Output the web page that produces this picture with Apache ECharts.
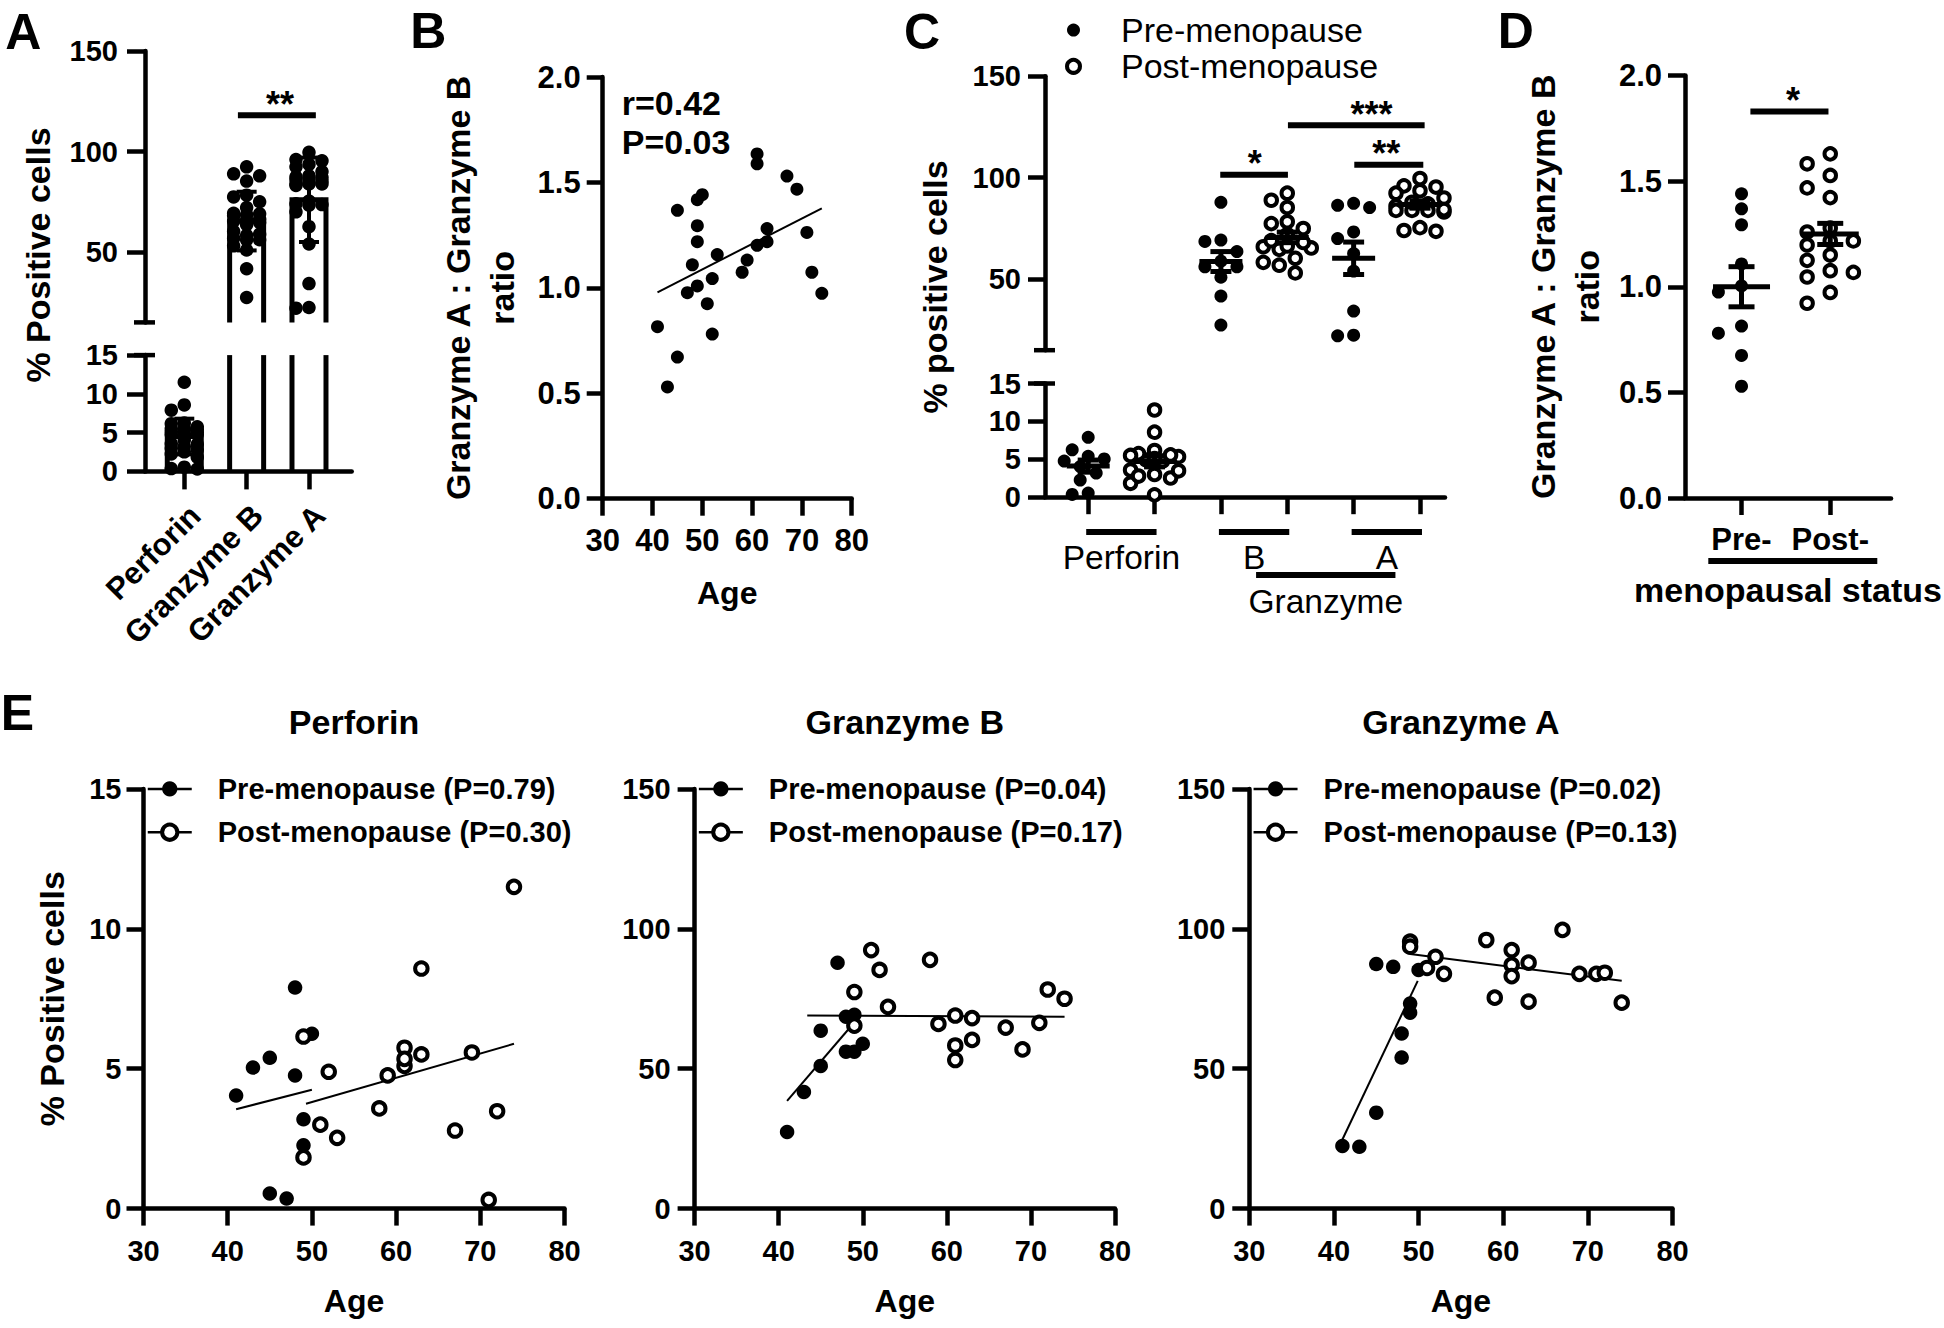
<!DOCTYPE html>
<html>
<head>
<meta charset="utf-8">
<script src="https://cdn.jsdelivr.net/npm/echarts@6/dist/echarts.min.js"></script>
<style>html,body{margin:0;padding:0;background:#fff}#c{width:1944px;height:1328px}</style>
</head>
<body>
<div id="c"></div>
<script>
// ======================= DATA =======================
const markerNames = ['Perforin', 'Granzyme B', 'Granzyme A'];

// Panel E: [age, % positive cells]
const ePerfPre  = [[41,4.04],[43,5.04],[45,5.39],[48,7.9],[48,4.76],[50,6.25],[49,3.19],[49,2.26],[45,0.54],[47,0.36]];
const ePerfPost = [[49,6.15],[49,1.83],[51,3.0],[52,4.89],[53,2.53],[58,3.58],[59,4.76],[61,5.75],[61,5.1],[61,5.35],[63,8.58],[63,5.51],[67,2.79],[69,5.58],[71,0.31],[72,3.48],[74,11.5]];
const eGzbPre   = [[41,27.4],[43,41.7],[45,63.6],[45,51.0],[47,87.9],[48,68.6],[48,56.1],[49,69.3],[49,56.1],[50,58.9]];
const eGzbPost  = [[49,77.4],[49,65.4],[51,92.4],[52,85.3],[53,72.1],[58,88.9],[59,66.0],[61,69.0],[61,58.3],[61,53.1],[63,68.1],[63,60.3],[67,64.7],[69,56.9],[71,66.4],[72,78.3],[74,75.0]];
const eGzaPre   = [[41,22.4],[43,22.1],[45,34.3],[45,87.4],[47,86.4],[48,62.6],[48,54.0],[49,73.3],[49,70.0],[50,85.3]];
const eGzaPost  = [[49,95.4],[49,93.6],[51,86.0],[52,90.0],[53,83.9],[58,96.0],[59,75.4],[61,92.4],[61,87.1],[61,83.1],[63,87.9],[63,74.0],[67,99.6],[69,83.9],[71,83.9],[72,84.3],[74,73.6]];
const ePerfPreFit = [[41,3.55],[50,4.25]],  ePerfPostFit = [[49.3,3.75],[74,5.89]];
const eGzbPreFit  = [[41,38.5],[49.5,68.3]], eGzbPostFit  = [[43.4,69.0],[74,68.6]];
const eGzaPreFit  = [[41,24.7],[49.9,81.4]], eGzaPostFit  = [[49,91.0],[74,81.4]];
const eTitles = ['Perforin', 'Granzyme B', 'Granzyme A'];
const ePPre  = ['0.79', '0.04', '0.02'];
const ePPost = ['0.30', '0.17', '0.13'];

// Panel A: bar = mean, whisker = SD
const aBarMean = [4.5, 65.4, 76.0];
const aBarSD   = [2.3, 14.6, 21.0];
const aSig = [[1.86, 3.11, 118, 2.535]];   // [x from, x to, y, label x]
const aSigText = ['**'];

// Panel B: [age, GzmA:GzmB ratio]
const bRatio = [[41,0.816],[43,0.53],[45,0.672],[45,1.368],[47,0.977],[48,1.109],[49,1.418],[50,1.442],[49,1.295],[49,1.219],[49,1.009],[51,0.925],[52,1.044],[52,0.781],[53,1.158],[58,1.074],[59,1.132],[61,1.635],[61,1.588],[61,1.202],[63,1.281],[63,1.219],[67,1.53],[69,1.468],[71,1.263],[72,1.074],[74,0.974]];
const bFit = [[41,0.979],[74,1.377]];
const bStatText = ['r=0.42', 'P=0.03'];

// Panel C: mean +/- SEM per group (Perf pre, Perf post, GzB pre, GzB post, GzA pre, GzA post)
const cLegendNames = ['Pre-menopause', 'Post-menopause'];
const cGroupLabels = ['Perforin', 'B', 'A'];
const cGroupTitle = 'Granzyme';
const cMean = [4.1, 4.7, 58.7, 70.6, 60.3, 86.8];
const cSem  = [0.8, 0.7, 4.9, 2.6, 8.0, 1.8];
const cSig = [[2.99, 4.01, 101.5, 3.51], [4.01, 6.07, 125.9, 5.27], [5.01, 6.05, 106.4, 5.49]];
const cSigText = ['*', '***', '**'];

// Panel D: GzmA:GzmB ratio by menopausal status
const dPre  = [1.44, 1.369, 1.293, 1.108, 0.975, 1.004, 0.78, 0.814, 0.675, 0.529];
const dPost = [1.582, 1.629, 1.527, 1.422, 1.468, 1.259, 1.278, 1.198, 1.217, 1.217, 1.15, 1.068, 1.076, 1.125, 1.046, 0.973, 0.922];
const dMean = [1.0, 1.25];
const dSem  = [0.095, 0.05];
const dCats = ['Pre-', 'Post-'];
const dSig = [[1.10, 1.98, 1.829, 1.58]];
const dSigText = ['*'];

// ======================= LAYOUT =======================
const FF = '"Liberation Sans", Arial, Helvetica, sans-serif';
const G = {
  aUp: {left:145, top:51, width:206.7, height:271.4},
  aLo: {left:145, top:355.1, width:206.7, height:116.3},
  b:   {left:602.7, top:77, width:249, height:421.7},
  cUp: {left:1045, top:76.3, width:400, height:273.9},
  cLo: {left:1045, top:383.5, width:400, height:113.7},
  d:   {left:1685, top:75.5, width:206.7, height:422.5},
  e1:  {left:143.5, top:788.9, width:421, height:419.7},
  e2:  {left:694.6, top:788.9, width:420.4, height:419.7},
  e3:  {left:1249.3, top:788.9, width:423.2, height:419.7}
};
const xA = {min:0.370, max:3.685}, xC = {min:0.349, max:6.377}, xD = {min:0.363, max:2.685};
const pxX = (g, r, v) => g.left + (v - r.min) / (r.max - r.min) * g.width;

function yBroken(up, lo, brk, top) {
  return v => v >= brk ? up.top + (top - v) / (top - brk) * up.height : lo.top + (brk - v) / brk * lo.height;
}
const yPxA = yBroken(G.aUp, G.aLo, 15, 150);
const yPxC = yBroken(G.cUp, G.cLo, 15, 150);
const yPxD = v => G.d.top + (2 - v) / 2 * G.d.height;

// simple beeswarm: horizontal offsets so that dots do not overlap
function swarm(vals, center, yPx, pxPerX, o) {
  const order = vals.map((v, i) => i).sort((a, b) => vals[b] - vals[a]);
  const placed = [], out = new Array(vals.length);
  order.forEach(i => {
    const y = yPx(vals[i]);
    let best = 0, bestCost = Infinity;
    for (let k = 0; k < 60; k++) {
      const off = k === 0 ? 0 : (k % 2 ? -1 : 1) * Math.ceil(k / 2) * o.step;
      if (Math.abs(off) > o.maxOff) break;
      let cost = 0;
      placed.forEach(p => {
        const dx = Math.abs(p.x - off), dy = Math.abs(p.y - y);
        if (dx < o.w && dy < o.h) cost += (o.w - dx) * (o.h - dy);
      });
      if (cost === 0) { best = off; bestCost = 0; break; }
      if (cost < bestCost) { bestCost = cost; best = off; }
    }
    placed.push({x: best, y});
    out[i] = [center + best / pxPerX, vals[i]];
  });
  return out;
}

// ---- A points
const aValues = [ePerfPre.concat(ePerfPost), eGzbPre.concat(eGzbPost), eGzaPre.concat(eGzaPost)].map(a => a.map(d => d[1]));
const pxPerXA = G.aUp.width / (xA.max - xA.min);
let aPts = [];
aValues.forEach((vals, i) => { aPts = aPts.concat(swarm(vals, i + 1, yPxA, pxPerXA, {step:6.5, w:13, h:13, maxOff:19})); });
const aPtsUp = aPts.filter(p => p[1] >= 15), aPtsLo = aPts.filter(p => p[1] < 15);
const aBars = aBarMean.map((m, i) => [i + 1, m]);
const aErr = aBarMean.map((m, i) => [i + 1, m, aBarSD[i]]);

// ---- C points
const cValues = [ePerfPre, ePerfPost, eGzbPre, eGzbPost, eGzaPre, eGzaPost].map(a => a.map(d => d[1]));
const pxPerXC = G.cUp.width / (xC.max - xC.min);
const cPre = [], cPost = [];
cValues.forEach((vals, g) => {
  const pts = swarm(vals, g + 1, yPxC, pxPerXC, {step:8, w:15, h:13, maxOff:26});
  (g % 2 === 0 ? cPre : cPost).push(...pts);
});
const cMS = cMean.map((m, i) => [i + 1, m, cSem[i]]);

// ---- D points
const pxPerXD = G.d.width / (xD.max - xD.min);
const dPrePts = swarm(dPre, 1, yPxD, pxPerXD, {step:11.6, w:22, h:13, maxOff:30});
const dPostPts = swarm(dPost, 2, yPxD, pxPerXD, {step:11.6, w:22, h:13, maxOff:30});
const dMS = dMean.map((m, i) => [i + 1, m, dSem[i]]);

// ======================= RENDER HELPERS =======================
function rBar(yMin, yMax) {
  return (p, api) => {
    const x = api.value(0), m = api.value(1);
    if (!(m > yMin)) return null;
    const top = Math.min(m, yMax);
    const a = api.coord([x, top]), b = api.coord([x, yMin]);
    const hw = 17, st = {stroke:'#000', lineWidth:5, fill:'none'};
    if (m < yMax) return {type:'polyline', shape:{points:[[a[0]-hw,b[1]],[a[0]-hw,a[1]],[a[0]+hw,a[1]],[a[0]+hw,b[1]]]}, style:st};
    return {type:'group', children:[
      {type:'line', shape:{x1:a[0]-hw, y1:b[1], x2:a[0]-hw, y2:a[1]}, style:st},
      {type:'line', shape:{x1:a[0]+hw, y1:b[1], x2:a[0]+hw, y2:a[1]}, style:st}]};
  };
}
function rErr(hwCap, hwMean, lw, yMin, yMax) {
  return (p, api) => {
    const x = api.value(0), m = api.value(1), e = api.value(2);
    if (m < yMin || m > yMax) return null;
    const c = api.coord([x, m]), hi = api.coord([x, m + e]), lo = api.coord([x, m - e]);
    const st = {stroke:'#000', lineWidth:lw};
    const ch = [
      {type:'line', shape:{x1:c[0], y1:lo[1], x2:c[0], y2:hi[1]}, style:st},
      {type:'line', shape:{x1:c[0]-hwCap, y1:hi[1], x2:c[0]+hwCap, y2:hi[1]}, style:st},
      {type:'line', shape:{x1:c[0]-hwCap, y1:lo[1], x2:c[0]+hwCap, y2:lo[1]}, style:st}];
    if (hwMean) ch.push({type:'line', shape:{x1:c[0]-hwMean, y1:c[1], x2:c[0]+hwMean, y2:c[1]}, style:st});
    return {type:'group', children:ch};
  };
}
function rSig(texts) {
  return (p, api) => {
    const y = api.value(2);
    const a = api.coord([api.value(0), y]), b = api.coord([api.value(1), y]), t = api.coord([api.value(3), y]);
    return {type:'group', children:[
      {type:'line', shape:{x1:a[0], y1:a[1], x2:b[0], y2:b[1]}, style:{stroke:'#000', lineWidth:6}},
      {type:'text', x:t[0], y:a[1] - 11, style:{text:texts[p.dataIndex], fill:'#000', font:'bold 36px ' + FF,
        textAlign:'center', textVerticalAlign:'middle', align:'center', verticalAlign:'middle'}}]};
  };
}
function rBreak(p, api) {
  const c = api.coord([api.value(0), api.value(1)]);
  return {type:'line', shape:{x1:c[0]-11, y1:c[1], x2:c[0]+10, y2:c[1]}, style:{stroke:'#000', lineWidth:4.5}};
}

// ======================= AXES =======================
function ax(o) {
  const b = {
    type:'value',
    axisLine:{show:true, onZero:false, lineStyle:{color:'#000', width:4.5}},
    axisTick:{show:true, length:17, lineStyle:{color:'#000', width:4.5}},
    axisLabel:{color:'#000', fontFamily:FF, fontWeight:'bold', fontSize:29},
    splitLine:{show:false}
  };
  Object.keys(o).forEach(k => {
    if (o[k] && typeof o[k] === 'object' && !Array.isArray(o[k]) && b[k]) b[k] = Object.assign({}, b[k], o[k]);
    else b[k] = o[k];
  });
  return b;
}
const nameStyle = (size, lh) => ({color:'#000', fontFamily:FF, fontWeight:'bold', fontSize:size, lineHeight:lh || size});
const fmt1 = v => v.toFixed(1);

const xAxis = [
  ax({gridIndex:0, min:xA.min, max:xA.max, show:false}),
  ax({gridIndex:1, min:xA.min, max:xA.max, axisTick:{customValues:[1,2,3], length:18},
      axisLabel:{customValues:[1,2,3], formatter:v => markerNames[Math.round(v) - 1], rotate:45, align:'right', verticalAlign:'top', margin:28, fontSize:31}}),
  ax({gridIndex:2, min:30, max:80, interval:10, axisLabel:{fontSize:31, margin:26},
      name:'Age', nameLocation:'middle', nameGap:78, nameTextStyle:nameStyle(32)}),
  ax({gridIndex:3, min:xC.min, max:xC.max, show:false}),
  ax({gridIndex:4, min:xC.min, max:xC.max, axisTick:{customValues:[1,2,3,4,5,6]},
      axisLabel:{customValues:[1.5,3.5,5.5], formatter:v => cGroupLabels[Math.round((v - 1.5) / 2)], fontWeight:'normal', fontSize:33.5, margin:43}}),
  ax({gridIndex:5, min:xD.min, max:xD.max, axisTick:{customValues:[1,2]},
      axisLabel:{customValues:[1,2], formatter:v => dCats[Math.round(v) - 1], fontSize:31, margin:26},
      name:'menopausal status', nameLocation:'middle', nameGap:75, nameTextStyle:nameStyle(34)}),
  ax({gridIndex:6, min:30, max:80, interval:10, axisLabel:{margin:28}, name:'Age', nameLocation:'middle', nameGap:76, nameTextStyle:nameStyle(32)}),
  ax({gridIndex:7, min:30, max:80, interval:10, axisLabel:{margin:28}, name:'Age', nameLocation:'middle', nameGap:76, nameTextStyle:nameStyle(32)}),
  ax({gridIndex:8, min:30, max:80, interval:10, axisLabel:{margin:28}, name:'Age', nameLocation:'middle', nameGap:76, nameTextStyle:nameStyle(32)})
];
const yAxis = [
  ax({gridIndex:0, min:15, max:150, axisTick:{customValues:[50,100,150], length:18}, axisLabel:{customValues:[50,100,150], margin:27}}),
  ax({gridIndex:1, min:0, max:15, interval:5, axisTick:{length:18}, axisLabel:{margin:27}}),
  ax({gridIndex:2, min:0, max:2, interval:0.5, axisTick:{length:16}, axisLabel:{fontSize:31, margin:22, formatter:fmt1},
      name:'Granzyme A : Granzyme B\nratio', nameLocation:'middle', nameRotate:90, nameGap:79, nameTextStyle:nameStyle(34, 44)}),
  ax({gridIndex:3, min:15, max:150, axisTick:{customValues:[50,100,150]}, axisLabel:{customValues:[50,100,150], margin:24}}),
  ax({gridIndex:4, min:0, max:15, interval:5, axisLabel:{margin:24}}),
  ax({gridIndex:5, min:0, max:2, interval:0.5, axisLabel:{fontSize:31, margin:23, formatter:fmt1},
      name:'Granzyme A : Granzyme B\nratio', nameLocation:'middle', nameRotate:90, nameGap:76, nameTextStyle:nameStyle(34, 44)}),
  ax({gridIndex:6, min:0, max:15, interval:5, axisLabel:{margin:22},
      name:'% Positive cells', nameLocation:'middle', nameRotate:90, nameGap:75, nameTextStyle:nameStyle(34)}),
  ax({gridIndex:7, min:0, max:150, interval:50, axisLabel:{margin:24}}),
  ax({gridIndex:8, min:0, max:150, interval:50, axisLabel:{margin:24}})
];
const grid = [G.aUp, G.aLo, G.b, G.cUp, G.cLo, G.d, G.e1, G.e2, G.e3].map(g => Object.assign({containLabel:false}, g));

// ======================= SERIES =======================
const filled = (size) => ({symbol:'circle', symbolSize:size, itemStyle:{color:'#000', opacity:1}});
const open = (size, bw) => ({symbol:'circle', symbolSize:size, itemStyle:{color:'#fff', borderColor:'#000', borderWidth:bw, opacity:1}});
const series = [];
// ---- A
series.push({type:'custom', name:'aBarUp', xAxisIndex:0, yAxisIndex:0, data:aBars, renderItem:rBar(15, 150), z:2});
series.push({type:'custom', name:'aBarLo', xAxisIndex:1, yAxisIndex:1, data:aBars, renderItem:rBar(0, 15), z:2});
series.push(Object.assign({type:'scatter', name:'aDotsUp', xAxisIndex:0, yAxisIndex:0, data:aPtsUp, z:4}, filled(13.5)));
series.push(Object.assign({type:'scatter', name:'aDotsLo', xAxisIndex:1, yAxisIndex:1, data:aPtsLo, z:4}, filled(13.5)));
series.push({type:'custom', name:'aErrUp', xAxisIndex:0, yAxisIndex:0, data:aErr, renderItem:rErr(10, 0, 4, 15, 150), z:6});
series.push({type:'custom', name:'aErrLo', xAxisIndex:1, yAxisIndex:1, data:aErr, renderItem:rErr(10, 0, 4, 0, 15), z:6});
series.push({type:'custom', name:'aSig', xAxisIndex:0, yAxisIndex:0, data:aSig, renderItem:rSig(aSigText), z:6});
series.push({type:'custom', name:'aBreakUp', xAxisIndex:0, yAxisIndex:0, data:[[xA.min, 15]], renderItem:rBreak, z:6});
series.push({type:'custom', name:'aBreakLo', xAxisIndex:1, yAxisIndex:1, data:[[xA.min, 15]], renderItem:rBreak, z:6});
// ---- B
series.push(Object.assign({type:'scatter', name:'bRatio', xAxisIndex:2, yAxisIndex:2, data:bRatio, z:4}, filled(13)));
series.push({type:'line', name:'bFit', xAxisIndex:2, yAxisIndex:2, data:bFit, symbol:'none', lineStyle:{color:'#000', width:2}, z:3});
// ---- C
series.push(Object.assign({type:'scatter', name:cLegendNames[0], xAxisIndex:3, yAxisIndex:3, data:cPre.filter(p => p[1] >= 15), z:4}, filled(13)));
series.push(Object.assign({type:'scatter', name:cLegendNames[0], xAxisIndex:4, yAxisIndex:4, data:cPre.filter(p => p[1] < 15), z:4}, filled(13)));
series.push(Object.assign({type:'scatter', name:cLegendNames[1], xAxisIndex:3, yAxisIndex:3, data:cPost.filter(p => p[1] >= 15), z:4}, open(11.5, 4)));
series.push(Object.assign({type:'scatter', name:cLegendNames[1], xAxisIndex:4, yAxisIndex:4, data:cPost.filter(p => p[1] < 15), z:4}, open(11.5, 4)));
series.push({type:'custom', name:'cMSUp', xAxisIndex:3, yAxisIndex:3, data:cMS, renderItem:rErr(10.5, 21.5, 5, 15, 150), z:6});
series.push({type:'custom', name:'cMSLo', xAxisIndex:4, yAxisIndex:4, data:cMS, renderItem:rErr(10.5, 21.5, 5, 0, 15), z:6});
series.push({type:'custom', name:'cSig', xAxisIndex:3, yAxisIndex:3, data:cSig, renderItem:rSig(cSigText), z:6});
series.push({type:'custom', name:'cBreakUp', xAxisIndex:3, yAxisIndex:3, data:[[xC.min, 15]], renderItem:rBreak, z:6});
series.push({type:'custom', name:'cBreakLo', xAxisIndex:4, yAxisIndex:4, data:[[xC.min, 15]], renderItem:rBreak, z:6});
// ---- D
series.push(Object.assign({type:'scatter', name:cLegendNames[0], xAxisIndex:5, yAxisIndex:5, data:dPrePts, z:4}, filled(13)));
series.push(Object.assign({type:'scatter', name:cLegendNames[1], xAxisIndex:5, yAxisIndex:5, data:dPostPts, z:4}, open(11.5, 4)));
series.push({type:'custom', name:'dMS', xAxisIndex:5, yAxisIndex:5, data:dMS, renderItem:rErr(13, 28.5, 5, 0, 2), z:6});
series.push({type:'custom', name:'dSig', xAxisIndex:5, yAxisIndex:5, data:dSig, renderItem:rSig(dSigText), z:6});
// ---- E
const ePre = [ePerfPre, eGzbPre, eGzaPre], ePost = [ePerfPost, eGzbPost, eGzaPost];
const ePreFit = [ePerfPreFit, eGzbPreFit, eGzaPreFit], ePostFit = [ePerfPostFit, eGzbPostFit, eGzaPostFit];
const legends = [];
[G.e1, G.e2, G.e3].forEach((g, k) => {
  const nPre = 'Pre-menopause (P=' + ePPre[k] + ')', nPost = 'Post-menopause (P=' + ePPost[k] + ')';
  series.push(Object.assign({type:'line', name:nPre, xAxisIndex:6+k, yAxisIndex:6+k, data:ePre[k], lineStyle:{width:0}, z:5}, filled(14.5)));
  series.push(Object.assign({type:'line', name:nPost, xAxisIndex:6+k, yAxisIndex:6+k, data:ePost[k], lineStyle:{width:0}, z:5}, open(12.5, 4)));
  series.push({type:'line', name:'preFit' + k, xAxisIndex:6+k, yAxisIndex:6+k, data:ePreFit[k], symbol:'none', lineStyle:{color:'#000', width:2}, z:3});
  series.push({type:'line', name:'postFit' + k, xAxisIndex:6+k, yAxisIndex:6+k, data:ePostFit[k], symbol:'none', lineStyle:{color:'#000', width:2}, z:3});
  legends.push({
    left:g.left + 3, top:g.top - 15, orient:'vertical', padding:0, itemWidth:44, itemHeight:19, itemGap:13.3, selectedMode:false,
    textStyle:{color:'#000', fontFamily:FF, fontWeight:'bold', fontSize:29, lineHeight:30, padding:[0,0,0,21]},
    data:[
      {name:nPre, itemStyle:{color:'#000', borderWidth:0}, lineStyle:{color:'#000', width:2.5, opacity:1}},
      {name:nPost, itemStyle:{color:'#fff', borderColor:'#000', borderWidth:4}, lineStyle:{color:'#000', width:2.5, opacity:1}}
    ]
  });
});
legends.push({
  left:1065, top:13.1, orient:'vertical', padding:0, itemWidth:13, itemHeight:13, itemGap:2.2, selectedMode:false,
  textStyle:{color:'#000', fontFamily:FF, fontWeight:'normal', fontSize:34, lineHeight:34, padding:[0,0,0,36]},
  data:[
    {name:cLegendNames[0], icon:'circle', itemStyle:{color:'#000', borderWidth:0, opacity:1}},
    {name:cLegendNames[1], icon:'circle', itemStyle:{color:'#fff', borderColor:'#000', borderWidth:4, opacity:1}}
  ]
});

// ======================= ANNOTATIONS =======================
const txt = (text, x, y, font, align, rot) => ({type:'text', x:x, y:y, rotation:rot || 0, silent:true,
  style:{text:text, fill:'#000', font:font, textAlign:align || 'center', textVerticalAlign:'middle', align:align || 'center', verticalAlign:'middle'}});
const ln = (x1, y1, x2, y2, w) => ({type:'line', silent:true, shape:{x1, y1, x2, y2}, style:{stroke:'#000', lineWidth:w}});
const B50 = 'bold 50px ' + FF, B34 = 'bold 34px ' + FF, R33 = '33.5px ' + FF;
const graphic = [
  txt('A', 23.3, 31.5, B50), txt('B', 428.3, 31, B50), txt('C', 922, 32, B50), txt('D', 1515.8, 31, B50), txt('E', 17.4, 713, B50),
  txt('% Positive cells', 38.3, 255, B34, 'center', Math.PI / 2),
  txt('% positive cells', 935.4, 287, B34, 'center', Math.PI / 2),
  txt(bStatText[0], 621.7, 102.9, B34, 'left'),
  txt(bStatText[1], 621.7, 141.7, B34, 'left'),
  txt(eTitles[0], G.e1.left + G.e1.width / 2, 722, B34),
  txt(eTitles[1], G.e2.left + G.e2.width / 2, 722, B34),
  txt(eTitles[2], G.e3.left + G.e3.width / 2, 722, B34)
];
[[1,2],[3,4],[5,6]].forEach(pr => graphic.push(ln(pxX(G.cLo, xC, pr[0]) - 2, 532.1, pxX(G.cLo, xC, pr[1]) + 2, 532.1, 6)));
const gz1 = pxX(G.cLo, xC, 3.53), gz2 = pxX(G.cLo, xC, 5.63);
graphic.push(ln(gz1, 575.1, gz2, 575.1, 6));
graphic.push(txt(cGroupTitle, (gz1 + gz2) / 2, 601.2, R33));
graphic.push(ln(1708.3, 561, 1877.3, 561, 6));

// ======================= CHART =======================
const chart = echarts.init(document.getElementById('c'), null, {renderer:'svg', width:1944, height:1328});
chart.setOption({
  animation:false,
  backgroundColor:'#fff',
  textStyle:{fontFamily:FF},
  grid:grid, xAxis:xAxis, yAxis:yAxis,
  legend:legends,
  series:series,
  graphic:graphic
});
</script>
</body>
</html>
